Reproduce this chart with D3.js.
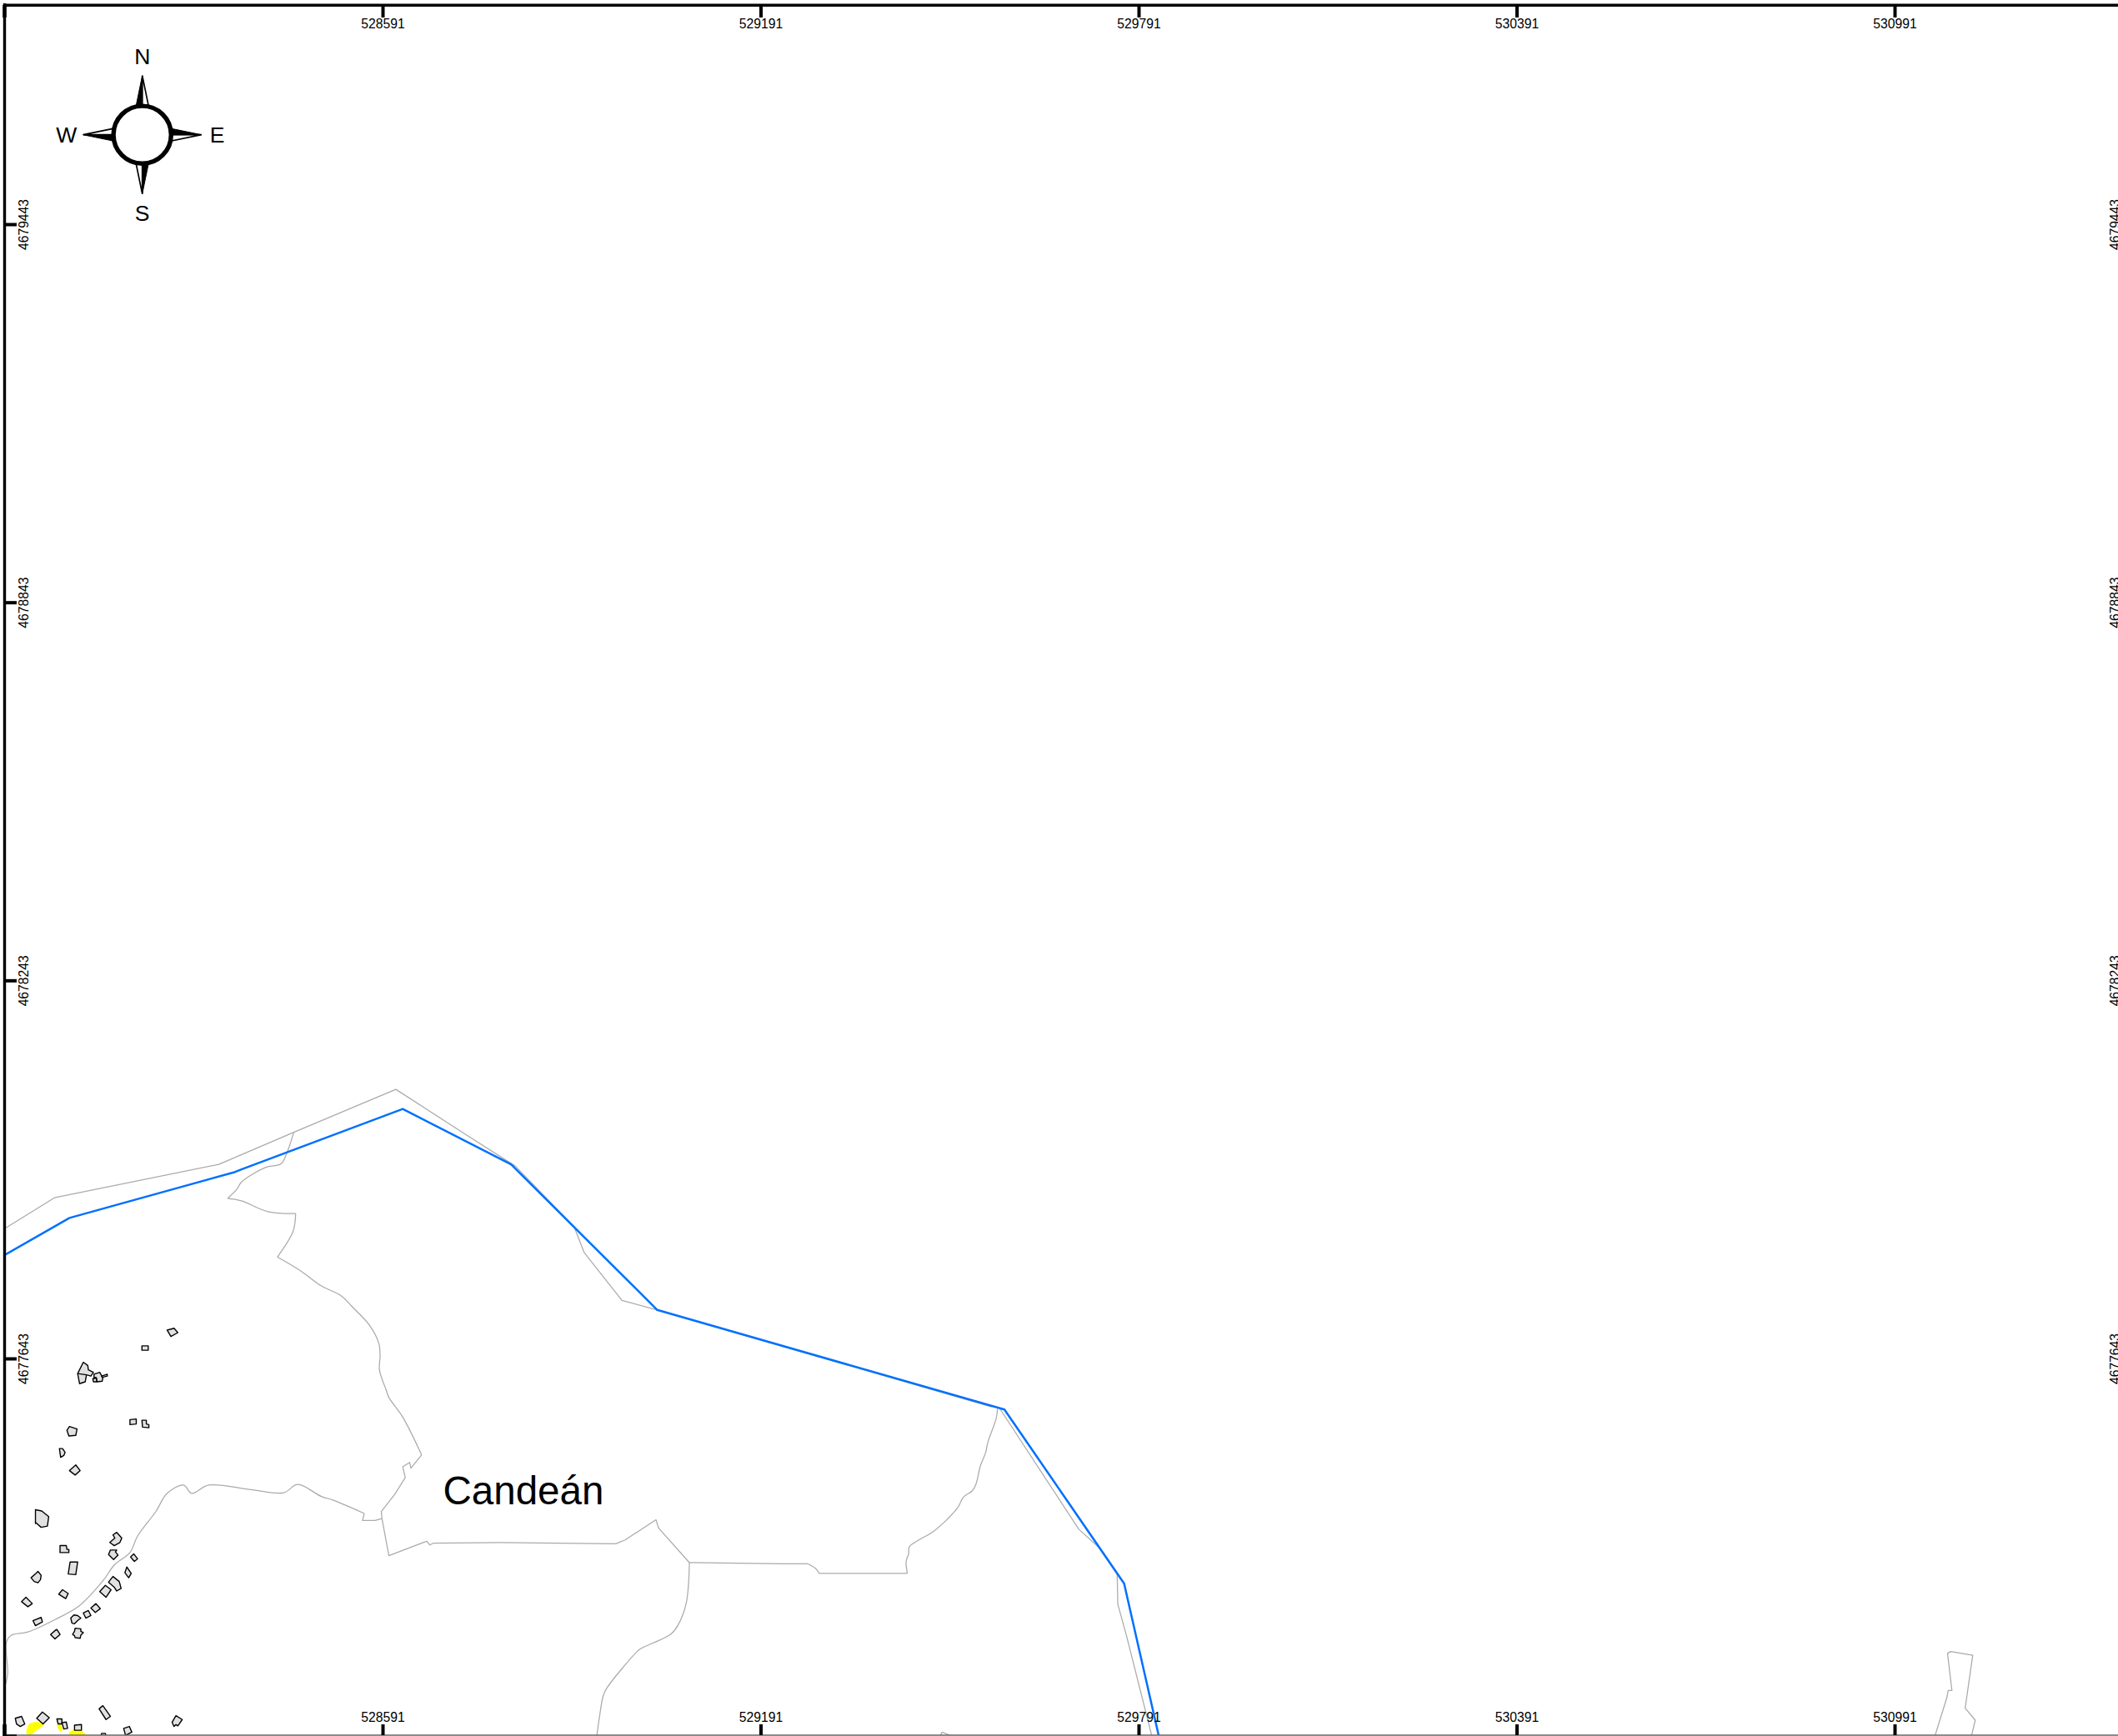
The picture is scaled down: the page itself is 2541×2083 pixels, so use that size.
<!DOCTYPE html>
<html><head><meta charset="utf-8">
<script src="https://cdn.jsdelivr.net/npm/d3@7"></script>
<style>html,body{margin:0;padding:0;background:#fff}svg{display:block}text{font-family:"Liberation Sans",Arial,sans-serif;fill:#000}</style>
</head><body><div id="c"></div>
<script>
// Map values: metres east of 528000 and metres north of 4677000.
const E0 = 528000, N0 = 4677000;
const eastingTicks = [528591, 529191, 529791, 530391, 530991];
const northingTicks = [4679443, 4678843, 4678243, 4677643];
const placeName = "Candeán";
const compassLetters = ["N", "E", "S", "W"];

const riverLine = [[-9,807],[94,866],[357,939],[367,943],[623,1039],[795,951],[1027,720],[1578,562],[1768,286],[1823,44]];
const outerBoundary = [[-9,849],[70,898],[331,951],[450,1002],[612,1070],[725,997],[802,948],[895,852],[911,811],[971,735],[1027,720],[1558,566]];
const eastBoundary = [[1571,563],[1696,372],[1728,343],[1757,301],[1758,253],[1771,206],[1812,44]];
const northSpurA = [[450,1002],[439,969],[430,952],[405,946],[367,923],[360,912],[345,897]];
const northSpurB = [[345,897],[367,893],[409,876],[453,873]];
const northSpurC = [[453,873],[449,845],[424,804]];
const northSpurD = [[424,804],[461,782],[494,758],[526,742],[542,726],[570,696],[585,667],[587,647],[586,625],[597,592],[601,581],[623,550],[653,490]];
const notchLine = [[653,490],[636,469],[634,478],[623,471],[627,454],[610,427],[589,400],[590,389]];
const centralLine = [[590,389],[601,330],[645,347],[661,353],[666,347],[672,350],[778,351],[961,349],[976,355],[1025,387],[1029,374],[1078,319]];
const eastBranchA = [[1078,319],[1227,317],[1266,317]];
const eastBranchB = [[1266,317],[1278,310],[1284,302]];
const eastBranchC = [[1284,302],[1424,302]];
const eastBranchD = [[1424,302],[1422,321],[1426,333],[1427,344],[1444,356],[1466,369],[1503,405],[1513,423],[1527,433],[1533,444],[1540,473],[1548,493],[1552,511],[1565,548],[1567,563]];
const southBranch = [[1078,319],[1073,255],[1060,220],[1049,206],[1000,182],[994,177],[947,120],[941,107],[936,79],[931,44]];
const westBranchA = [[590,389],[579,386],[559,386],[562,397]];
const westBranchB = [[562,397],[513,418],[494,424],[456,443],[434,430],[381,435],[315,442],[288,429],[275,442],[249,429],[231,400],[202,361],[190,335],[165,315],[147,290],[110,251],[72,229],[28,209],[2,204],[-6,193],[-4,144],[-7,127]];
const farEastParcel = [[3055,44],[3074,105],[3076,116],[3082,116],[3075,175],[3080,178],[3115,172],[3103,88],[3119,69],[3113,44]];
const southParcel = [[1476,44],[1479,50],[1494,44]];
const straightLines = [outerBoundary, eastBoundary, notchLine, centralLine, westBranchA, eastBranchA, eastBranchC, farEastParcel, southParcel];
const curvedLines = [northSpurA, northSpurB, northSpurC, northSpurD, eastBranchB, eastBranchD, southBranch, westBranchB];

const yellowPatches = [
 [[26,54],[30,63],[39,66],[48,65],[53,61],[41,52],[33,46],[26,48]],
 [[74,61],[79,63],[83,54],[79,51]],
 [[94,50],[103,54],[114,52],[118,44],[96,44]]
];
const buildings = [
 [[249,688],[260,691],[266,684],[255,678]],
 [[209,663],[219,663],[219,656],[209,656]],
 [[116,637],[123,632],[124,625],[132,621],[128,615],[121,617],[119,606],[110,603],[107,619]],
 [[133,618],[142,621],[147,612],[146,607],[138,606],[136,613],[133,612]],
 [[131,611],[137,612],[137,606],[132,606]],
 [[145,615],[154,618],[154,615],[146,613]],
 [[190,546],[200,547],[200,539],[190,538]],
 [[209,545],[216,545],[216,539],[220,538],[220,533],[210,534]],
 [[94,535],[106,531],[104,521],[93,520],[90,529]],
 [[78,500],[83,500],[87,494],[85,489],[80,486]],
 [[94,465],[104,474],[111,465],[103,458]],
 [[40,403],[50,401],[61,392],[59,377],[49,375],[41,382],[40,381]],
 [[79,346],[89,346],[90,340],[93,340],[93,335],[79,335]],
 [[92,301],[95,320],[107,320],[104,300]],
 [[33,295],[41,302],[44,305],[49,299],[48,292],[44,287],[38,289]],
 [[77,269],[83,276],[92,270],[88,262]],
 [[18,257],[25,264],[35,254],[28,249]],
 [[36,227],[49,232],[51,225],[40,219]],
 [[64,205],[72,212],[74,213],[79,205],[71,198]],
 [[96,231],[101,236],[107,235],[112,231],[107,227],[102,222],[98,223]],
 [[116,239],[124,243],[128,235],[120,231]],
 [[128,247],[136,254],[143,246],[135,240]],
 [[99,205],[102,210],[103,215],[112,214],[112,210],[116,208],[112,204],[111,199],[103,200],[102,203]],
 [[142,273],[151,283],[160,276],[152,264]],
 [[156,288],[163,297],[173,289],[176,278],[169,274],[165,280]],
 [[182,303],[185,312],[192,302],[188,295]],
 [[156,332],[159,339],[169,339],[167,336],[171,331],[164,324]],
 [[158,351],[166,358],[163,363],[169,367],[177,358],[174,351],[165,346]],
 [[191,328],[196,333],[202,325],[197,321]],
 [[8,72],[18,75],[23,63],[16,59],[10,63]],
 [[42,72],[51,82],[62,73],[52,63]],
 [[74,71],[82,71],[82,63],[76,63]],
 [[82,65],[89,66],[91,56],[85,55]],
 [[102,61],[113,62],[113,53],[102,53]],
 [[141,87],[147,92],[159,75],[152,70]],
 [[180,56],[189,59],[193,50],[183,45]],
 [[144,45],[145,48],[151,48],[152,44]],
 [[257,66],[263,76],[273,70],[266,60],[263,62],[260,59],[258,63]]
];
const buildingDividers = [[[107,619],[121,617]]];

const W = 2541, H = 2083;
const xScale = d3.scaleLinear().domain([528591, 530991]).range([459, 2273]);
const yScale = d3.scaleLinear().domain([4679443, 4677643]).range([269, 1630]);
const svg = d3.select("#c").append("svg").attr("width", W).attr("height", H).attr("viewBox", `0 0 ${W} ${H}`);
svg.append("rect").attr("width", W).attr("height", H).attr("fill", "#fff");
svg.append("clipPath").attr("id", "frame").append("rect").attr("x", 5).attr("y", 6).attr("width", W - 5).attr("height", H - 7);

const geoLine = d3.line().x(d => xScale(E0 + d[0])).y(d => yScale(N0 + d[1]));
const smoothLine = d3.line().x(d => xScale(E0 + d[0])).y(d => yScale(N0 + d[1])).curve(d3.curveCatmullRom.alpha(0.5));
const blobLine = d3.line().x(d => xScale(E0 + d[0])).y(d => yScale(N0 + d[1])).curve(d3.curveCardinalClosed);
const map = svg.append("g").attr("clip-path", "url(#frame)");

map.append("g").selectAll("path").data(yellowPatches).join("path")
  .attr("d", d => blobLine(d)).attr("fill", "#ffff00");
const greyStyle = s => s.attr("fill", "none").attr("stroke", "#aaaaaa").attr("stroke-width", 1.25).attr("stroke-linejoin", "round");
map.append("g").selectAll("path").data(straightLines).join("path").attr("d", d => geoLine(d)).call(greyStyle);
map.append("g").selectAll("path").data(curvedLines).join("path").attr("d", d => smoothLine(d)).call(greyStyle);
map.append("g").selectAll("path").data(buildings).join("path")
  .attr("d", d => geoLine(d) + "Z").attr("fill", "#e1e1e1").attr("stroke", "#000").attr("stroke-width", 1.4).attr("stroke-linejoin", "round");
map.append("g").selectAll("path").data(buildingDividers).join("path")
  .attr("d", d => geoLine(d)).attr("fill", "none").attr("stroke", "#000").attr("stroke-width", 1.3);
map.append("path").datum(riverLine).attr("d", geoLine).attr("fill", "none").attr("stroke", "#0070ff").attr("stroke-width", 2.5).attr("stroke-linejoin", "round");

map.append("text").attr("x", xScale(E0 + 687)).attr("y", yScale(N0 + 411)).attr("font-size", 47.5).text(placeName);

// frame
const frame = svg.append("g").attr("stroke", "#000");
frame.append("line").attr("x1", 5.5).attr("x2", 5.5).attr("y1", 4).attr("y2", H).attr("stroke-width", 3.4);
frame.append("line").attr("x1", 4).attr("x2", W).attr("y1", 6.3).attr("y2", 6.3).attr("stroke-width", 3.4);
frame.append("line").attr("x1", 5).attr("x2", W).attr("y1", H - 1).attr("y2", H - 1).attr("stroke", "#666").attr("stroke-width", 1.6);
frame.append("line").attr("x1", 5.5).attr("x2", 5.5).attr("y1", 6).attr("y2", 21).attr("stroke-width", 4.6);
frame.append("line").attr("x1", 5.5).attr("x2", 5.5).attr("y1", 2069).attr("y2", H).attr("stroke-width", 4.6);
frame.append("line").attr("x1", 5).attr("x2", 20).attr("y1", H - 1).attr("y2", H - 1).attr("stroke-width", 1.6);

function styleAxis(g) {
  g.select(".domain").remove();
  g.selectAll(".tick line").attr("stroke", "#000").attr("stroke-width", 4);
  g.selectAll("text").attr("font-size", 15.7).attr("font-family", null).attr("fill", "#000");
}
const fmt = d3.format("d");
svg.append("g").attr("transform", "translate(0,6)")
  .call(d3.axisBottom(xScale).tickValues(eastingTicks).tickFormat(fmt).tickSize(15).tickPadding(13))
  .call(styleAxis).call(g => g.selectAll("text").attr("dy", 0));
svg.append("g").attr("transform", `translate(0,${H - 1})`)
  .call(d3.axisTop(xScale).tickValues(eastingTicks).tickFormat(fmt).tickSize(13).tickPadding(3))
  .call(styleAxis).call(g => g.selectAll("text").attr("dy", 0));
svg.append("g").attr("transform", "translate(5,0)")
  .call(d3.axisRight(yScale).tickValues(northingTicks).tickFormat(fmt).tickSize(15))
  .call(styleAxis).call(g => g.selectAll("text").attr("x", 0).attr("dy", 0).attr("text-anchor", "middle").attr("transform", "translate(29,0) rotate(-90)"));
svg.append("g").attr("transform", "translate(2543,0)")
  .call(d3.axisRight(yScale).tickValues(northingTicks).tickFormat(fmt).tickSize(0))
  .call(g => g.selectAll(".tick line").remove())
  .call(styleAxis).call(g => g.selectAll("text").attr("x", 0).attr("dy", 0).attr("text-anchor", "middle").attr("transform", "rotate(-90)"));

// north arrow
const compass = svg.append("g").attr("transform", "translate(170.7,161.7)");
compassLetters.forEach((letter, i) => {
  const arm = compass.append("g").attr("transform", `rotate(${i * 90})`);
  arm.append("path").attr("d", "M0,-71 L7.6,-34 L0,-34 Z").attr("fill", "#fff").attr("stroke", "#000").attr("stroke-width", 1.7).attr("stroke-linejoin", "miter");
  arm.append("path").attr("d", "M0,-71 L-7.6,-34 L0,-34 Z").attr("fill", "#000").attr("stroke", "#000").attr("stroke-width", 1);
});
compass.append("circle").attr("r", 34.6).attr("fill", "#fff").attr("stroke", "#000").attr("stroke-width", 5.4);
const letterPos = { N: [0, -84.4], E: [90, 9.5], S: [0, 103.3], W: [-91, 9.5] };
compass.selectAll("text").data(compassLetters).join("text")
  .attr("x", d => letterPos[d][0]).attr("y", d => letterPos[d][1]).attr("text-anchor", "middle").attr("font-size", 26.5).text(d => d);
</script></body></html>
